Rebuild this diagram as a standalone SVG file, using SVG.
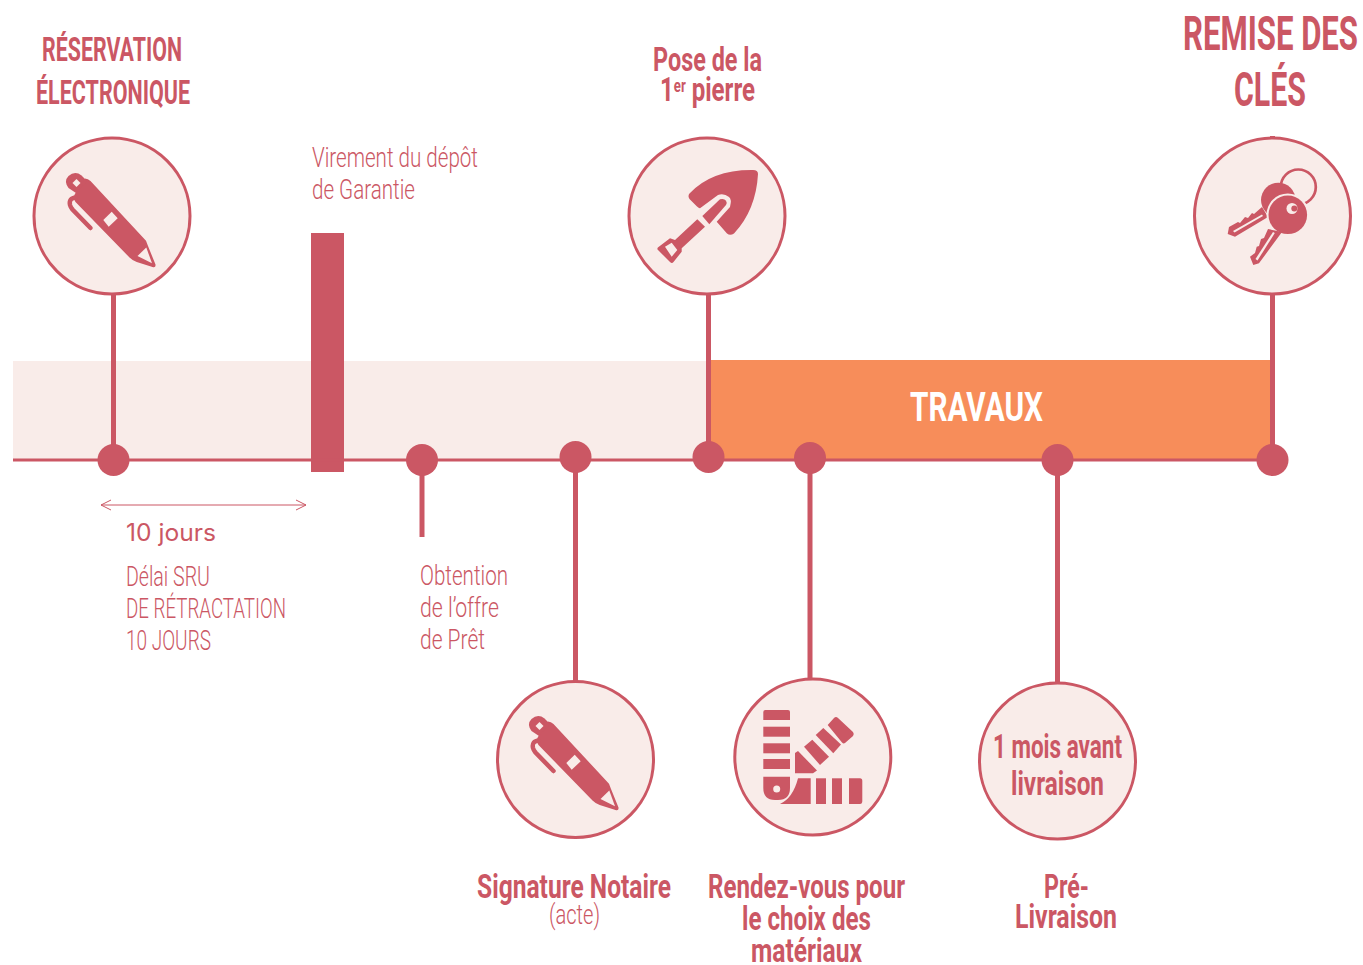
<svg xmlns="http://www.w3.org/2000/svg" width="1363" height="965" viewBox="0 0 1363 965">
<style>
.c{fill:#F9ECE9;stroke:#CB5764;stroke-width:3}
.i{fill:#CB5764}
.w{fill:#F9ECE9}
.s{stroke:#CB5764;stroke-width:5;fill:none}
.d{fill:#CB5764}
text{font-family:Roboto,"Liberation Sans",sans-serif;fill:#CB5764}
.b{font-weight:700;font-size:33px}
.l{font-weight:300;font-size:28px}
</style>
<defs>
<g id="pen">
<path class="i" d="M85 178.500Q88 178.500 90.500 181L146 240.700L148 246L155.500 264.500Q156 268 152.500 267L136.700 262Q132.500 260.500 129.500 257.500L75.500 202Q72.500 197 75.500 193Z"/>
<path class="i" d="M68.500 188Q63.500 181 68.500 176Q75 170.500 81.500 175.500L87 181L76 193Z"/>
<path class="w" d="M72.500 183L76.500 179L80.500 183L76.500 187Z"/>
<path d="M76 197.500Q68.500 198 70 205Q70.500 207 72.500 209.500L90.500 228" fill="none" stroke="#CB5764" stroke-width="4.500" stroke-linecap="round"/>
<path class="w" d="M103.300 220L111.700 211.700L117.700 218.300L108.700 226.700Z"/>
<path class="w" d="M137.500 256L146.300 247.500L152 263.300Z"/>
</g>
</defs>
<g id="bands">
<rect x="13" y="361" width="696" height="99" fill="#F9ECE9"/>
<rect x="709" y="360" width="563" height="100" fill="#F78D5A"/>
<rect x="311" y="233" width="33" height="239" fill="#CB5764"/>
</g>
<g id="connectors">
<path d="M13 460H1272" stroke="#CB5764" stroke-width="3" fill="none"/>
<path class="s" d="M113.500 295V460"/>
<path class="s" d="M708.500 295V457"/>
<path class="s" d="M1272.500 136V460"/>
<path class="s" d="M422 460V537"/>
<path class="s" d="M575.500 457V682"/>
<path class="s" d="M810 458V680"/>
<path class="s" d="M1057.500 460V683"/>
<path d="M101 505H306M111 500L101 505L111 510M296 500L306 505L296 510" fill="none" stroke="#CB5764" stroke-width="1"/>
</g>
<g id="dots">
<circle class="d" cx="113.500" cy="460" r="16"/>
<circle class="d" cx="422" cy="460" r="16"/>
<circle class="d" cx="575.500" cy="457" r="16"/>
<circle class="d" cx="708.500" cy="457" r="16"/>
<circle class="d" cx="810" cy="458" r="16"/>
<circle class="d" cx="1057.500" cy="460" r="16"/>
<circle class="d" cx="1272.500" cy="460" r="16"/>
</g>
<g id="node-reservation">
<circle class="c" cx="112" cy="216" r="78"/>
<use href="#pen"/>
<text class="b" x="42" y="61" textLength="140" lengthAdjust="spacingAndGlyphs">RÉSERVATION</text>
<text class="b" x="36" y="103.500" textLength="154" lengthAdjust="spacingAndGlyphs">ÉLECTRONIQUE</text>
</g>
<g id="node-virement">
<text class="l" x="312" y="167" textLength="166" lengthAdjust="spacingAndGlyphs">Virement du dépôt</text>
<text class="l" x="312" y="199" textLength="103" lengthAdjust="spacingAndGlyphs">de Garantie</text>
</g>
<g id="node-pose">
<circle class="c" cx="707" cy="216" r="78"/>
<path class="i" d="M753 170Q758 170 758 174Q756 210 734 233.500Q730 236 727 233.500L716.700 221.700L730 207Q732 199 729 197Q724 193 718 195L700 208.300Q699 208.500 697 206.500L689.500 199Q687.500 196 689.500 193.500Q712 169.500 753 170Z"/>
<path class="i" d="M702.300 216L720 199.300Q724 198 726 200.700Q727.500 203 726 205L709.300 224.300Z"/>
<path class="i" fill-rule="evenodd" d="M697.300 219.300L705 226.700L681.700 248.300L681.700 251.700L673.500 262Q672 264 670 262L658 250Q656.500 248.500 658.500 247L670 238.300L675 240ZM665 246.700L671.700 242.700L677.300 250L671.700 256.700Z"/>
<text class="b" x="653" y="70.500" textLength="109" lengthAdjust="spacingAndGlyphs">Pose de la</text>
<text class="b" x="660" y="100.500" textLength="95" lengthAdjust="spacingAndGlyphs">1<tspan font-size="18" dy="-9">er</tspan><tspan dy="9"> pierre</tspan></text>
</g>
<g id="node-remise">
<circle class="c" cx="1272.500" cy="216" r="78"/>
<circle cx="1298.300" cy="187" r="17.500" fill="none" stroke="#CB5764" stroke-width="2.700"/>
<circle class="i" cx="1278.300" cy="200" r="17.300"/>
<path class="i" d="M1227.700 234L1229 227L1238 222L1240 223L1245 217L1248 218L1252 213L1254 214L1262 207L1268 217L1235 236.700Z"/>
<path class="w" d="M1233 231L1262 214.500L1263 216L1234.500 232.500Z"/>
<circle cx="1287.800" cy="214.800" r="21.300" fill="#F9ECE9"/>
<circle class="i" cx="1287.800" cy="214.800" r="19.300"/>
<path class="i" d="M1250 256.700L1255 253L1256.700 246.700L1259 246L1261 239L1264 238L1268 229L1282 232L1259 263.300L1253.300 265Z"/>
<path class="w" d="M1255.500 259L1273 232L1274.800 233L1257.500 260.500Z"/>
<circle class="w" cx="1292" cy="208.500" r="5.500"/>
<circle class="i" cx="1294.300" cy="208.500" r="3"/>
<text class="b" style="font-size:48px" x="1183" y="50" textLength="175" lengthAdjust="spacingAndGlyphs">REMISE DES</text>
<text class="b" style="font-size:48px" x="1234" y="106" textLength="72" lengthAdjust="spacingAndGlyphs">CLÉS</text>
</g>
<g id="node-travaux">
<text class="b" style="font-size:40px;fill:#fff" x="910" y="421" textLength="133" lengthAdjust="spacingAndGlyphs">TRAVAUX</text>
</g>
<g id="node-delai">
<text x="126" y="541" font-size="24" style="font-family:Inter,Roboto,sans-serif;font-weight:400" textLength="90" lengthAdjust="spacingAndGlyphs">10 jours</text>
<text class="l" x="126" y="586" textLength="84" lengthAdjust="spacingAndGlyphs">Délai SRU</text>
<text class="l" x="126" y="618" textLength="160" lengthAdjust="spacingAndGlyphs">DE RÉTRACTATION</text>
<text class="l" x="126" y="650" textLength="85" lengthAdjust="spacingAndGlyphs">10 JOURS</text>
</g>
<g id="node-obtention">
<text class="l" x="420" y="585" textLength="88" lengthAdjust="spacingAndGlyphs">Obtention</text>
<text class="l" x="420" y="617" textLength="79" lengthAdjust="spacingAndGlyphs">de l’offre</text>
<text class="l" x="420" y="649" textLength="65" lengthAdjust="spacingAndGlyphs">de Prêt</text>
</g>
<g id="node-signature">
<circle class="c" cx="575.500" cy="759.500" r="78"/>
<use href="#pen" x="463" y="543"/>
<text class="b" x="477" y="898" textLength="194" lengthAdjust="spacingAndGlyphs">Signature Notaire</text>
<text class="l" x="549" y="924" textLength="51" lengthAdjust="spacingAndGlyphs">(acte)</text>
</g>
<g id="node-rendez-vous">
<circle class="c" cx="812.800" cy="757" r="78"/>
<path class="i" d="M765.300 710H788Q790 710 790 712V720H763.300V712Q763.300 710 765.300 710Z"/>
<rect class="i" x="763.300" y="726.700" width="26.700" height="10"/>
<rect class="i" x="763.300" y="743.300" width="26.700" height="10"/>
<rect class="i" x="763.300" y="759" width="26.700" height="10"/>
<path class="i" fill-rule="evenodd" d="M763.300 776.700H790V788Q790 800 778 800H775Q763.300 800 763.300 788ZM780.200 789A3.500 3.500 0 1 0 773.200 789A3.500 3.500 0 1 0 780.200 789Z"/>
<path class="i" d="M780 804Q793 798 798 778.300H810.700V804Z"/>
<rect class="i" x="816" y="778.300" width="10" height="25.700"/>
<rect class="i" x="832" y="778.300" width="10" height="25.700"/>
<path class="i" d="M849 778.300H860Q862.300 778.300 862.300 781V801Q862.300 804 860 804H849Z"/>
<path class="i" d="M795 773.300V753L798 751L817 770.500L813 773.300Z"/>
<path class="i" d="M804 746.700L812.300 739.700L829 756.700L820 765Z"/>
<path class="i" d="M815.700 735L823.300 728L841 744.500L833.300 753.300Z"/>
<path class="i" d="M827.700 725L834 718Q836 716 838 718L853 732Q854.500 734 853 736L845 743Q843.500 744 842 742.500Z"/>
<text class="b" x="708" y="898" textLength="197" lengthAdjust="spacingAndGlyphs">Rendez-vous pour</text>
<text class="b" x="742" y="930" textLength="129" lengthAdjust="spacingAndGlyphs">le choix des</text>
<text class="b" x="751" y="962" textLength="111" lengthAdjust="spacingAndGlyphs">matériaux</text>
</g>
<g id="node-livraison">
<circle class="c" cx="1057.500" cy="761" r="78"/>
<text class="b" x="993" y="758" textLength="129" lengthAdjust="spacingAndGlyphs">1 mois avant</text>
<text class="b" x="1011" y="795" textLength="93" lengthAdjust="spacingAndGlyphs">livraison</text>
<text class="b" x="1044" y="898" textLength="45" lengthAdjust="spacingAndGlyphs">Pré-</text>
<text class="b" x="1015" y="928" textLength="102" lengthAdjust="spacingAndGlyphs">Livraison</text>
</g>
</svg>
